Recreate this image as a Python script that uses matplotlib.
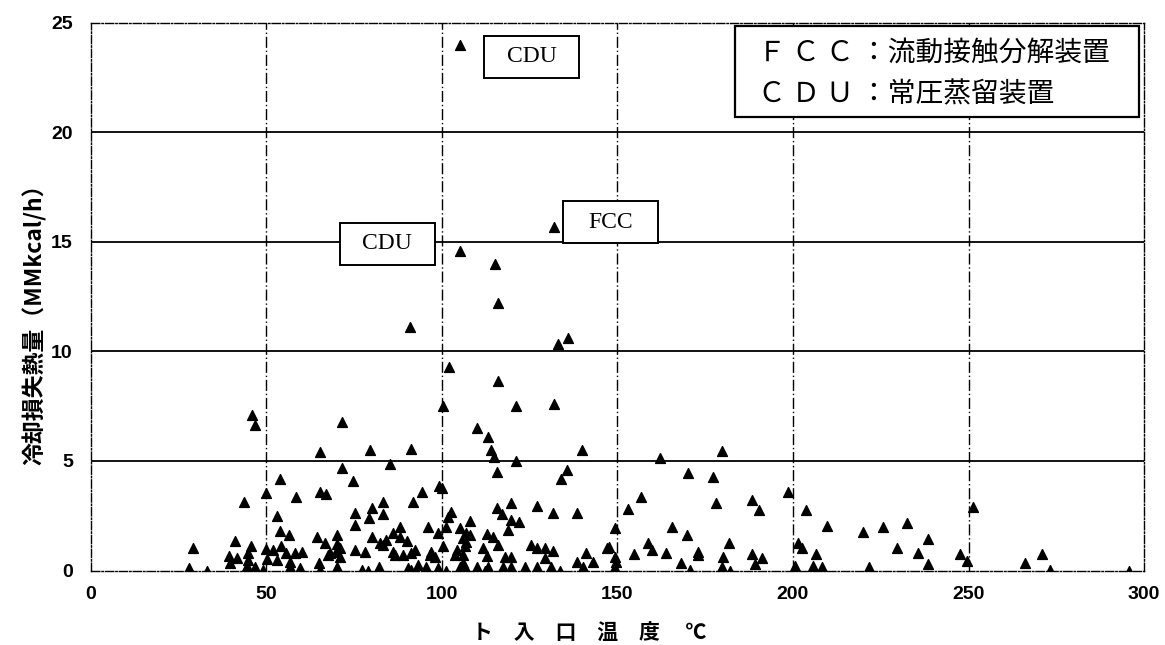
import matplotlib
matplotlib.use('Agg')
from matplotlib import pyplot as plt
from matplotlib.patches import Rectangle

plt.rcParams['font.family'] = ['Liberation Sans', 'Noto Sans CJK JP', 'DejaVu Sans']

# cooler inlet temperature (degC) and cooling heat loss (MMkcal/h)
temp_upper = [105.2, 105.1, 115.2, 116.0, 131.9, 133.1, 136.0, 91.0, 102.1, 116.0,
              100.2, 121.1, 132.0, 110.0, 113.1, 113.9, 114.8, 121.1, 115.6, 139.8,
              135.5, 134.0, 46.0, 46.8, 71.4, 65.4, 79.4, 91.1, 85.2, 71.4,
              74.6, 53.8, 43.7, 50.0, 58.3, 65.2, 66.9, 52.9, 75.2, 75.1,
              80.1, 79.3, 83.2, 83.2, 91.7, 94.2, 99.1, 100.0, 102.6, 101.8]
loss_upper = [24.0, 14.6, 14.0, 12.2, 15.7, 10.35, 10.6, 11.1, 9.3, 8.65,
              7.5, 7.5, 7.6, 6.5, 6.1, 5.5, 5.2, 5.0, 4.5, 5.5,
              4.6, 4.2, 7.1, 6.65, 6.8, 5.4, 5.5, 5.55, 4.85, 4.7,
              4.1, 4.2, 3.15, 3.55, 3.37, 3.58, 3.47, 2.48, 2.64, 2.08,
              2.86, 2.41, 3.15, 2.6, 3.12, 3.6, 3.85, 3.75, 2.66, 2.46]

temp_low_a = [29.0, 27.9, 33.1, 41.0, 39.4, 41.7, 39.6, 45.5, 44.8, 44.8,
              44.4, 46.7, 49.1, 49.9, 51.9, 54.3, 50.1, 52.9, 53.8, 56.5,
              55.7, 58.1, 60.0, 56.7, 59.5, 56.7, 64.5, 66.7, 67.6, 65.0,
              65.2, 88.0, 96.1, 101.1, 105.1, 98.9, 107.0, 70.2, 86.1, 88.0,
              80.1, 82.3, 84.2, 90.1, 70.0, 70.9, 69.7, 68.1, 70.9, 75.2,
              78.1, 83.3, 86.1, 86.6, 89.0, 91.3, 92.3, 97.0, 96.6, 98.0,
              100.4, 104.2, 103.7, 106.8, 106.1, 70.2, 77.1, 79.0, 82.1, 90.4,
              91.3, 93.2, 95.6, 98.9, 101.3, 105.1]
loss_low_a = [1.04, 0.1, 0.0, 1.35, 0.66, 0.56, 0.33, 1.12, 0.81, 0.48,
              0.2, 0.17, 0.02, 0.97, 0.94, 1.12, 0.51, 0.48, 1.82, 1.62,
              0.79, 0.81, 0.86, 0.17, 0.1, 0.4, 1.54, 1.27, 0.71, 0.33,
              0.02, 2.0, 2.0, 2.0, 1.93, 1.73, 1.7, 1.62, 1.7, 1.54,
              1.52, 1.27, 1.39, 1.36, 1.2, 1.01, 0.86, 0.79, 0.63, 0.94,
              0.86, 1.16, 0.86, 0.71, 0.71, 0.79, 0.94, 0.86, 0.71, 0.63,
              1.12, 0.94, 0.71, 1.32, 0.33, 0.17, 0.02, 0.0, 0.15, 0.1,
              0.02, 0.25, 0.17, 0.1, 0.0, 0.17]

temp_low_b = [119.8, 115.8, 117.0, 127.0, 131.5, 138.6, 119.8, 122.0, 118.9, 108.0,
              108.0, 106.5, 112.7, 114.6, 116.0, 111.8, 112.7, 117.9, 119.8, 109.9,
              113.2, 117.5, 119.8, 123.6, 112.3, 127.0, 125.5, 127.0, 129.3, 131.7,
              129.3, 131.2, 133.6, 138.4, 141.0, 143.1, 140.2, 106.1, 106.5, 105.9]
loss_low_b = [3.1, 2.87, 2.57, 2.95, 2.64, 2.64, 2.31, 2.23, 1.85, 2.26,
              1.62, 1.12, 1.65, 1.54, 1.16, 1.04, 0.66, 0.63, 0.6, 0.17,
              0.17, 0.17, 0.17, 0.17, 0.0, 0.17, 1.16, 1.01, 1.01, 0.9,
              0.56, 0.17, 0.0, 0.4, 0.79, 0.4, 0.17, 0.71, 0.17, 1.47]

temp_right = [162.1, 179.9, 170.2, 177.3, 156.7, 152.9, 178.1, 149.3, 165.4, 169.9,
              146.9, 147.6, 158.8, 159.7, 154.8, 163.8, 173.0, 173.0, 181.8, 180.2,
              168.1, 170.7, 179.9, 182.0, 149.3, 149.6, 149.3, 148.8,
              198.7, 188.2, 190.4, 203.7, 209.6, 220.0, 225.7, 232.6, 238.4, 229.5,
              235.7, 201.5, 202.7, 206.5, 188.2, 191.3, 189.2, 200.6, 205.6, 208.4,
              221.7, 238.6, 251.4, 247.6, 249.7, 266.1, 271.0, 273.2, 295.7]
loss_right = [5.12, 5.46, 4.44, 4.28, 3.37, 2.79, 3.1, 1.93, 2.0, 1.62,
              1.01, 1.09, 1.24, 0.94, 0.74, 0.81, 0.86, 0.71, 1.27, 0.6,
              0.36, 0.02, 0.17, 0.0, 0.63, 0.4, 0.1, 0.0,
              3.6, 3.22, 2.76, 2.76, 2.03, 1.77, 2.0, 2.18, 1.42, 1.01,
              0.81, 1.27, 1.01, 0.75, 0.75, 0.56, 0.3, 0.22, 0.22, 0.17,
              0.17, 0.3, 2.91, 0.75, 0.43, 0.36, 0.75, 0.02, 0.0]

x_ticks = [0, 50, 100, 150, 200, 250, 300]
y_ticks = [0, 5, 10, 15, 20, 25]

temps = temp_upper + temp_low_a + temp_low_b + temp_right
losses = loss_upper + loss_low_a + loss_low_b + loss_right

fig = plt.figure(figsize=(11.65, 6.45), dpi=100)
ax = fig.add_axes([0.078, 0.1155, 0.904, 0.849])

# grid: horizontal solid, vertical dash-dot
for yv in y_ticks[1:-1]:
    ax.axhline(yv, color='k', lw=1.3, zorder=1)
for xv in x_ticks[1:-1]:
    ax.axvline(xv, color='k', lw=1.0, linestyle=(0, (8, 2, 1, 2)), zorder=1)

ax.scatter(temps, losses, marker='^', s=50, color='k', zorder=3)

ax.set_xlim(0, 300)
ax.set_ylim(0, 25)
ax.set_xticks(x_ticks)
ax.set_yticks(y_ticks)
ax.tick_params(length=0, labelsize=14)
ax.tick_params(axis='x', pad=11)
ax.tick_params(axis='y', pad=13)
for lab in ax.get_xticklabels() + ax.get_yticklabels():
    lab.set_fontweight('bold')
for sp in ax.spines.values():
    sp.set_linestyle((0, (6, 1.5, 1, 1.5)))
    sp.set_linewidth(1.0)

ax.set_ylabel('冷却損失熱量（MMkcal/h）', fontsize=16.5, fontweight='bold',
              family=['Noto Sans CJK JP', 'DejaVu Sans'])
ax.yaxis.set_label_coords(-0.042, 0.46)
ax.set_xlabel('ト　入　口　温　度　 ℃', fontsize=15, fontweight='bold',
              family=['Noto Sans CJK JP', 'DejaVu Sans'])
ax.xaxis.set_label_coords(0.473, -0.095)

# annotation boxes
serif = ['Liberation Serif', 'DejaVu Serif']
boxes = [('CDU', 112.0, 22.5), ('FCC', 134.6, 14.95), ('CDU', 70.9, 13.95)]
for txt, bx, by in boxes:
    ax.add_patch(Rectangle((bx, by), 27.0, 1.92, facecolor='white', edgecolor='k',
                           lw=1.4, zorder=4))
    ax.text(bx + 13.5, by + 0.96, txt, ha='center', va='center', fontsize=17,
            family=serif, zorder=5)

# legend-like note box
ax.add_patch(Rectangle((0.612, 0.829), 0.383, 0.166, transform=ax.transAxes,
                       facecolor='white', edgecolor='k', lw=1.6, zorder=4))
note_font = ['Noto Sans CJK JP', 'DejaVu Sans']
ax.text(0.633, 0.945, 'Ｆ Ｃ Ｃ ：流動接触分解装置', transform=ax.transAxes,
        ha='left', va='center', fontsize=20, family=note_font, zorder=5)
ax.text(0.633, 0.870, 'Ｃ Ｄ Ｕ ：常圧蒸留装置', transform=ax.transAxes,
        ha='left', va='center', fontsize=20, family=note_font, zorder=5)

plt.savefig('out.png', dpi=100)
